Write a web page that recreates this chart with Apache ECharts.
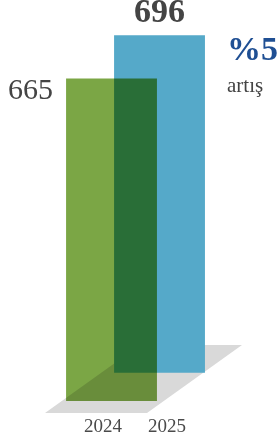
<!DOCTYPE html>
<html>
<head>
<meta charset="utf-8">
<script src="https://cdn.jsdelivr.net/npm/echarts@6/dist/echarts.min.js"></script>
<style>
  html, body { margin: 0; padding: 0; background: #fff; }
  #content { width: 279px; height: 445px; }
</style>
</head>
<body>
<div id="content"></div>
<script>
  const years = ['2024', '2025'];
  const values = [665, 696];
  const barColors = ['#7ba645', '#55a9c9'];
  const growthText = '%5';
  const growthLabel = 'artış';

  const serif = '"Liberation Serif", "DejaVu Serif", serif';
  const chart = echarts.init(document.getElementById('content'));

  // one bar per series; the 2024 bar is multiplied over the rest
  function drawBar(params, api) {
    const i = api.value(0);
    const base = api.coord([i, 0]);
    const top = api.coord([i, api.value(1)]);
    const band = api.size([1, 0])[0];
    const w = band * 1.42;
    const shift = i === 0 ? band * 0.133 : -band * 0.117;
    const lift = i === 0 ? 0 : band * 0.44;
    const x = base[0] + shift - w / 2;
    const y = top[1] - lift;
    const h = base[1] - top[1];
    const label = i === 0
      ? { type: 'text', style: { text: String(api.value(1)), x: x - 13, y: y + 13,
          align: 'right', verticalAlign: 'middle', fill: '#444', font: '30px ' + serif } }
      : { type: 'text', style: { text: String(api.value(1)), x: x + w / 2, y: y - 22,
          align: 'center', verticalAlign: 'middle', fill: '#444', font: 'bold 34px ' + serif } };
    return {
      type: 'group',
      children: [{
        type: 'rect',
        shape: { x: x, y: y, width: w, height: h },
        style: { fill: barColors[i] }
      }, label]
    };
  }

  chart.setOption({
    animation: false,
    grid: { left: 71, width: 128, top: 13, bottom: 44 },
    xAxis: {
      type: 'category',
      data: years,
      axisLine: { show: false },
      axisTick: { show: false },
      axisLabel: { color: '#4a4a4a', fontFamily: serif, fontSize: 19, margin: 17 }
    },
    yAxis: { type: 'value', min: 0, max: 800, show: false },
    series: [{
      // floor shadow under the bars
      type: 'custom',
      data: [[0, 0]],
      z: 1,
      renderItem: function (params, api) {
        const p = api.coord([api.value(0), 0]);
        return {
          type: 'polygon',
          shape: { points: [
            [p[0] - 58, p[1] + 12], [p[0] + 44, p[1] + 12],
            [p[0] + 139, p[1] - 56], [p[0] + 37, p[1] - 56]
          ] },
          style: { fill: '#d9d9d9' }
        };
      }
    }, {
      type: 'custom',
      data: [[1, values[1]]],
      z: 2,
      renderItem: drawBar
    }, {
      type: 'custom',
      data: [[0, values[0]]],
      z: 3,
      blendMode: 'multiply',
      renderItem: drawBar
    }],
    graphic: [{
      type: 'text', left: 227, top: 34,
      style: { text: growthText, fill: '#1f4f93', font: 'bold 34px ' + serif }
    }, {
      type: 'text', left: 227, top: 76,
      style: { text: growthLabel, fill: '#444', font: '21px ' + serif }
    }]
  });
</script>
</body>
</html>
